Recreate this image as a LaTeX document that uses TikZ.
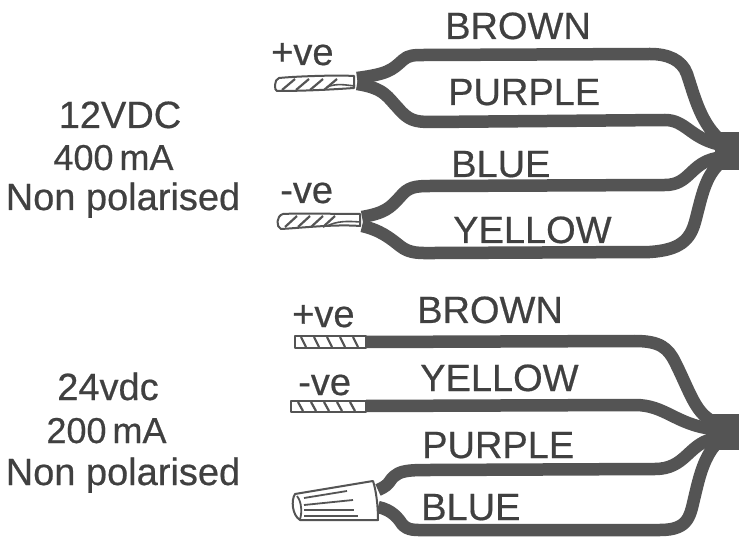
\documentclass[tikz,border=0pt]{standalone}
\usepackage{fontspec}
\setmainfont[FakeBold=0.5]{Liberation Sans}
\begin{document}
\begin{tikzpicture}[x=1pt,y=-1pt,
  wire/.style={draw=wirecol,line width=12.5pt,line cap=butt,line join=round},
  hubbox/.style={fill=wirecol,draw=none,inner sep=0pt},
  lab/.style={anchor=base west,inner sep=0pt,text=txtcol,font=\fontsize{38}{38}\selectfont},
  big/.style={anchor=base,inner sep=0pt,text=txtcol,font=\fontsize{38}{38}\selectfont},
  small/.style={anchor=base,inner sep=0pt,text=txtcol,font=\fontsize{36}{36}\selectfont},
  strand/.style={draw=wirecol,line width=2pt,line join=round,fill=white},
  hatch/.style={draw=wirecol,line width=2.2pt},
  nutline/.style={draw=wirecol,line width=1.8pt}]
\definecolor{wirecol}{HTML}{545454}
\definecolor{txtcol}{HTML}{404040}
\useasboundingbox (0,0) rectangle (739,537);
\fill[white] (0,0) rectangle (739,537);

% left texts
\node[big] (t1) at (120,128) {12VDC};
\node[small] (t2) at (113.5,170) {400\,mA};
\node[big] (t3) at (123,210) {Non polarised};
\node[big] (t4) at (108,400) {24vdc};
\node[small] (t5) at (106.5,443) {200\,mA};
\node[big] (t6) at (123,485) {Non polarised};

% wire labels
\node[lab] (l1) at (445,39) {BROWN};
\node[lab] (l2) at (448,105) {PURPLE};
\node[lab] (l3) at (451,177) {BLUE};
\node[lab] (l4) at (453,243) {YELLOW};
\node[lab] (l5) at (417,323) {BROWN};
\node[lab] (l6) at (420,391) {YELLOW};
\node[lab] (l7) at (422,458) {PURPLE};
\node[lab] (l8) at (421,520) {BLUE};
\node[lab] (p1) at (271,65) {+ve};
\node[lab] (n1) at (280,203) {-ve};
\node[lab] (p2) at (292,327) {+ve};
\node[lab] (n2) at (298,395) {-ve};

% hubs
\node[hubbox,minimum width=24pt,minimum height=38pt] (hubA) at (727,151) {};
\node[hubbox,minimum width=27pt,minimum height=36pt] (hubB) at (725.5,432) {};
\coordinate (a1) at (357,78);
\coordinate (a2) at (357,84);
\coordinate (a3) at (362,217);
\coordinate (a4) at (362,226);
\coordinate (b1) at (366,342);
\coordinate (b2) at (366,406);
\coordinate (b3) at (378,490);
\coordinate (b4) at (378,507);

% top group wires
\draw[wire] (a1) .. controls (388,74) and (392,70) .. (403,60)
  .. controls (408,55) and (415,55) .. (425,55) -- (650,54)
  .. controls (668,54) and (682,60) .. (687,74)
  .. controls (694,95) and (700,120) .. (717,137) -- (hubA.center);
\draw[wire] (a2) .. controls (385,88) and (388,98) .. (398,108)
  .. controls (408,120) and (415,122) .. (430,122) -- (665,120)
  .. controls (685,120) and (690,137) .. (717,144) -- (hubA.center);
\draw[wire] (a3) .. controls (385,213) and (390,208) .. (400,197)
  .. controls (408,187) and (415,186) .. (430,186) -- (665,185)
  .. controls (690,185) and (690,163) .. (717,158) -- (hubA.center);
\draw[wire] (a4) .. controls (380,230) and (390,238) .. (400,246)
  .. controls (410,254) and (420,253) .. (435,253) -- (650,252)
  .. controls (680,250) and (690,240) .. (695,222)
  .. controls (701,200) and (704,180) .. (717,166) -- (hubA.center);

% bottom group wires
\draw[wire] (b1) -- (635,341)
  .. controls (660,341) and (668,348) .. (675,362)
  .. controls (690,392) and (695,412) .. (712,421) -- (hubB.center);
\draw[wire] (b2) -- (635,405)
  .. controls (665,405) and (675,424) .. (712,429) -- (hubB.center);
\draw[wire] (b3) .. controls (392,484) and (388,480) .. (396,475)
  .. controls (402,470) and (415,470) .. (430,470) -- (655,469)
  .. controls (685,469) and (688,445) .. (712,439) -- (hubB.center);
\draw[wire] (b4) .. controls (392,510) and (398,518) .. (402,524)
  .. controls (408,531) and (415,530) .. (430,530) -- (660,530)
  .. controls (690,530) and (690,515) .. (695,495)
  .. controls (699,478) and (703,462) .. (712,449) -- (hubB.center);

% bared ends, top
\draw[strand] (a1) ++(-3,-2) .. controls (340,75) and (300,76) .. (279,78)
  .. controls (274,79) and (274,91) .. (277,91)
  .. controls (300,91) and (325,90) .. (354,88) -- cycle;
\foreach \x in {282,296,310,324}
  \draw[hatch] (\x,90) -- (\x+13,79);
\draw[draw=wirecol,line width=1.6pt] (327,87) .. controls (337,83) and (345,85) .. (355,86);
\draw[strand] (a3) ++(-2,-3) .. controls (335,214) and (300,213) .. (283,214)
  .. controls (276,216) and (276,227) .. (281,229)
  .. controls (300,228) and (335,224) .. (360,226) -- cycle;
\foreach \x in {285,298,311,323}
  \draw[hatch] (\x,227) -- (\x+12,216);
\draw[draw=wirecol,line width=1.6pt] (327,226) .. controls (337,221) and (347,221) .. (360,222);

% bared ends, bottom
\draw[strand] (295,336) rectangle (366,348);
\foreach \x in {301,314,327,340,353}
  \draw[hatch] (\x,337) -- (\x+5,347);
\draw[strand] (291,401) rectangle (366,412);
\foreach \x in {298,311,324,337,350}
  \draw[hatch] (\x,402) -- (\x+5,411);

% wire nut
\draw[strand] (295,494) -- (373,481) .. controls (376,490) and (378,505) .. (378,520)
  -- (300,520) .. controls (292,515) and (291,500) .. (295,494) -- cycle;
\draw[nutline] (297,496) .. controls (302,502) and (302,514) .. (300,519);
\draw[nutline] (304,498) -- (347,491);
\draw[nutline] (304,505) -- (353,500);
\draw[nutline] (304,510) -- (354,510);
\draw[nutline] (304,516) -- (358,516);
\end{tikzpicture}
\end{document}
